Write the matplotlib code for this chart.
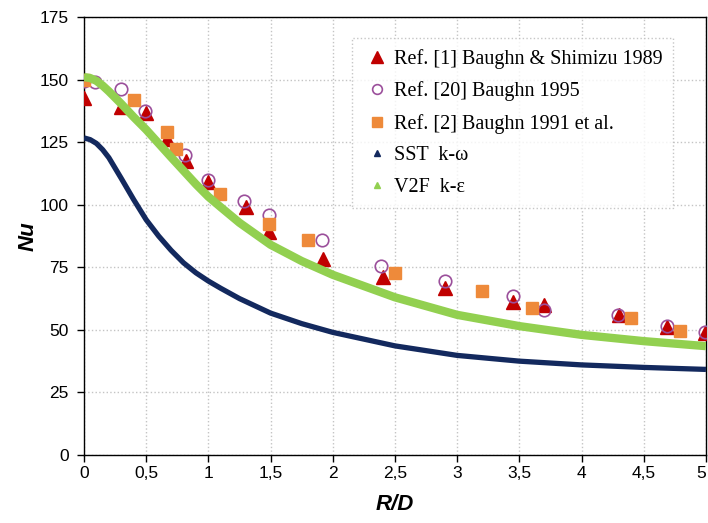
import matplotlib
matplotlib.use('Agg')
import matplotlib.pyplot as plt
from matplotlib.lines import Line2D

ref1_x = [0, 0.30, 0.50, 0.67, 0.82, 1.0, 1.30, 1.49, 1.92, 2.40, 2.90, 3.45, 3.70, 4.30, 4.69, 4.99]
ref1_y = [142.8, 139.1, 136.7, 126.4, 117.3, 109.1, 99.1, 89.1, 78.5, 71.1, 66.8, 61.1, 59.9, 56.0, 51.1, 48.9]

ref20_x = [0, 0.09, 0.30, 0.49, 0.81, 1.0, 1.29, 1.49, 1.91, 2.39, 2.90, 3.45, 3.70, 4.29, 4.69, 4.99]
ref20_y = [149.3, 148.9, 146.3, 137.4, 119.8, 110.0, 101.5, 95.7, 86.0, 75.7, 69.6, 63.7, 58.0, 55.8, 51.5, 49.0]

ref2_x = [0, 0.40, 0.67, 0.74, 1.09, 1.49, 1.80, 2.50, 3.20, 3.60, 4.40, 4.79]
ref2_y = [150.0, 142.0, 129.2, 122.2, 104.1, 92.3, 86.0, 72.8, 65.7, 58.6, 54.6, 49.6]

# CFD curves
rd = [0, 0.05, 0.1, 0.15, 0.2, 0.3, 0.4, 0.5, 0.6, 0.7, 0.8, 0.9, 1.0, 1.1,
      1.25, 1.5, 1.75, 2.0, 2.5, 3.0, 3.5, 4.0, 4.5, 5.0]
sst = [126.7, 126.0, 124.5, 122.0, 118.8, 110.5, 102.0, 94.0, 87.5, 81.8,
       76.8, 72.8, 69.5, 66.6, 62.5, 56.7, 52.5, 49.0, 43.6, 39.8, 37.5,
       36.0, 35.0, 34.2]
v2f = [151.0, 150.6, 149.5, 147.6, 145.3, 140.3, 135.0, 130.0, 124.5, 119.0,
       113.6, 108.2, 103.2, 99.0, 92.8, 84.0, 77.5, 72.0, 63.0, 56.0, 51.5,
       48.0, 45.5, 43.5]

x_ticks = [0, 0.5, 1, 1.5, 2, 2.5, 3, 3.5, 4, 4.5, 5]
x_ticklabels = ['0', '0,5', '1', '1,5', '2', '2,5', '3', '3,5', '4', '4,5', '5']
y_ticks = [0, 25, 50, 75, 100, 125, 150, 175]

labels = ['Ref. [1] Baughn & Shimizu 1989', 'Ref. [20] Baughn 1995',
          'Ref. [2] Baughn 1991 et al.', 'SST  k-\u03c9', 'V2F  k-\u03b5']

c_red = '#c00000'
c_purple = '#9b4f9b'
c_orange = '#ee8a3a'
c_navy = '#13295e'
c_green = '#92d050'

plt.rcParams['font.family'] = ['Liberation Sans', 'DejaVu Sans']

fig = plt.figure(figsize=(7.08, 5.23), dpi=100)
ax = fig.add_axes([0.1186, 0.130, 0.8785, 0.8375])

ax.plot(ref1_x, ref1_y, '^', ms=10, color=c_red, zorder=3)
ax.plot(ref20_x, ref20_y, 'o', ms=9, mfc='none', mec=c_purple, mew=1.2, zorder=3)
ax.plot(ref2_x, ref2_y, 's', ms=8, color=c_orange, zorder=3)
ax.plot(rd, sst, '-', lw=3.8, color=c_navy, solid_capstyle='butt', zorder=4)
ax.plot(rd, v2f, '-', lw=6, color=c_green, solid_capstyle='butt', zorder=4)

ax.set_xlim(0, 5)
ax.set_ylim(0, 175)
ax.set_xticks(x_ticks, x_ticklabels)
ax.set_yticks(y_ticks)
ax.grid(True, color='#c4c4c4', linestyle=':', linewidth=1.0)
ax.set_axisbelow(True)
ax.tick_params(axis='both', direction='out', length=5, width=1, labelsize=12.5)
ax.tick_params(axis='x', pad=3)
ax.tick_params(axis='y', pad=6)
for s in ax.spines.values():
    s.set_linewidth(1.0)
# keep the last x label inside the figure
ax.get_xticklabels()[-1].set_horizontalalignment('right')

ax.set_xlabel('R/D', fontsize=16, fontweight='bold', fontstyle='italic', labelpad=9)
ax.set_ylabel('Nu', fontsize=16, fontweight='bold', fontstyle='italic', labelpad=1)

handles = [
    Line2D([], [], ls='none', marker='^', ms=8, color=c_red),
    Line2D([], [], ls='none', marker='o', ms=7, mfc='none', mec=c_purple, mew=1.2),
    Line2D([], [], ls='none', marker='s', ms=7, color=c_orange),
    Line2D([], [], ls='none', marker='^', ms=4, color=c_navy),
    Line2D([], [], ls='none', marker='^', ms=5, color=c_green),
]
leg = ax.legend(handles, labels, loc='upper left', bbox_to_anchor=(0.4316, 0.952),
                borderaxespad=0, frameon=True, fancybox=False, handlelength=1.3,
                handletextpad=0.2, labelspacing=0.62, borderpad=0.55,
                prop={'family': ['Liberation Serif', 'DejaVu Serif'], 'size': 14.5})
leg.get_frame().set_edgecolor('#b8b8b8')
leg.get_frame().set_linestyle(':')
leg.get_frame().set_linewidth(1.0)

fig.savefig('out.png', dpi=100)
